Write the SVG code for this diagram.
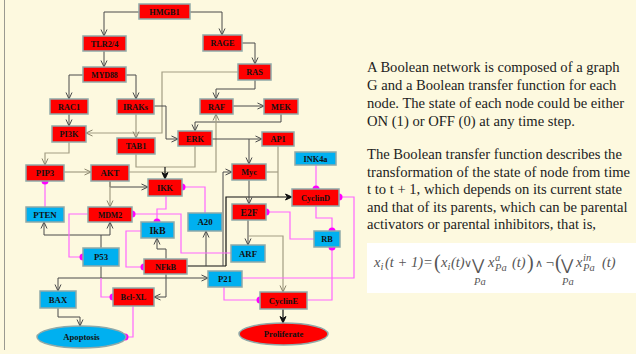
<svg xmlns="http://www.w3.org/2000/svg" width="636" height="354" viewBox="0 0 636 354">
<defs>
<style>
.n rect,.n ellipse{stroke:#8FA9A9;stroke-width:1.5}
.r{fill:#FF0000}
.b{fill:#00B0F0}
.n text{font-family:"Liberation Serif","Times New Roman",serif;font-weight:bold;font-size:8.3px;text-anchor:middle;fill:#111}
.c{fill:none;stroke:#4a4a4a;stroke-width:1}
.l{fill:none;stroke:#a39d84;stroke-width:1.2}
.k{fill:none;stroke:#111;stroke-width:1.2}
.p{fill:none;stroke:#FF66FF;stroke-width:1.2}
.d{fill:#FF00FF}
.t{font-family:"Liberation Serif","Times New Roman",serif;font-size:14.6px;fill:#222}
.f{font-family:"Liberation Serif","Times New Roman",serif;font-style:italic;font-size:14.5px;fill:#555}
.fs{font-family:"Liberation Serif","Times New Roman",serif;font-style:italic;font-size:10.5px;fill:#555}
.fr{font-family:"Liberation Serif","Times New Roman",serif;font-size:20px;fill:#555}
.fo{font-family:"DejaVu Sans",sans-serif;font-size:11px;fill:#555}
.fb{font-family:"DejaVu Sans",sans-serif;font-size:15px;fill:#555}
</style>
<marker id="ad" viewBox="0 0 8 8" refX="7.5" refY="4" markerWidth="8" markerHeight="8" markerUnits="userSpaceOnUse" orient="auto"><path d="M1,1 L7.5,4 L1,7" fill="none" stroke="#4a4a4a" stroke-width="1"/></marker>
<marker id="al" viewBox="0 0 8 8" refX="7.5" refY="4" markerWidth="8" markerHeight="8" markerUnits="userSpaceOnUse" orient="auto"><path d="M1,1 L7.5,4 L1,7" fill="none" stroke="#8a846c" stroke-width="1"/></marker>
<marker id="ak" viewBox="0 0 8 8" refX="7.5" refY="4" markerWidth="8" markerHeight="8" markerUnits="userSpaceOnUse" orient="auto"><path d="M1,1 L7.5,4 L1,7 L3,4 Z" fill="#111" stroke="#111" stroke-width="1"/></marker>
</defs>
<rect x="0" y="0" width="636" height="354" fill="#FDF9DF"/>
<line x1="4.5" y1="0" x2="4.5" y2="350" stroke="#9a9a90" stroke-width="1"/>

<g id="connectors">
<path class="c" d="M139,12 H104 V36" marker-end="url(#ad)"/>
<path class="c" d="M190,12 H222 V35" marker-end="url(#ad)"/>
<path class="c" d="M104,51 V67" marker-end="url(#ad)"/>
<path class="c" d="M83,75 H69 V99" marker-end="url(#ad)"/>
<path class="c" d="M126,75 H136 V99" marker-end="url(#ad)"/>
<path class="c" d="M242,43 H255 V64" marker-end="url(#ad)"/>
<path class="c" d="M255,80 V89 H216 V99" marker-end="url(#ad)"/>
<path class="l" d="M238,72 H162 V133 H86" marker-end="url(#al)"/>
<path class="c" d="M69,114 V126" marker-end="url(#ad)"/>
<path class="l" d="M136,114 V138" marker-end="url(#al)"/>
<path class="c" d="M154,106 H166 V139 H178" marker-end="url(#ad)"/>
<path class="c" d="M233,106 H264" marker-end="url(#ad)"/>
<path class="c" d="M281,114 V122 H195 V131" marker-end="url(#ad)"/>
<path class="l" d="M129,172 H216 V114" marker-end="url(#al)"/>
<path class="c" d="M212,139 H262" marker-end="url(#ad)"/>
<path class="c" d="M249,139 V164" marker-end="url(#ad)"/>
<path class="l" d="M136,154 V167 H195 V146"/>
<path class="k" d="M165,167 V179" marker-end="url(#ak)"/>
<path class="l" d="M278,146 V197"/>
<path class="l" d="M266,172 H278"/>
<path class="k" d="M226,266 V197 H292" marker-end="url(#ak)"/>
<path class="c" d="M249,180 V204" marker-end="url(#ad)"/>
<path class="c" d="M248,220 V245" marker-end="url(#ad)"/>
<path class="l" d="M248,236 H283 V292" marker-end="url(#al)"/>
<path class="k" d="M283,309 V323" marker-end="url(#ak)"/>
<path class="l" d="M69,142 V153 H45 V165" marker-end="url(#al)"/>
<path class="l" d="M64,172 H91" marker-end="url(#al)"/>
<path class="c" d="M110,181 V187 H148" marker-end="url(#ad)"/>
<path class="l" d="M110,181 V207" marker-end="url(#al)"/>
<path class="c" d="M166,259 V249 H157 V238" marker-end="url(#ad)"/>
<path class="k" d="M187,266 H226"/>
<path class="c" d="M206,266 V231" marker-end="url(#ad)"/>
<path class="c" d="M223,266 V172 H232" marker-end="url(#ad)"/>
<path class="c" d="M101,248 V235 H44 V222" marker-end="url(#ad)"/>
<path class="c" d="M101,235 H110 V222" marker-end="url(#ad)"/>
<path class="c" d="M101,266 V278"/>
<path class="c" d="M101,278 H58 V291" marker-end="url(#ad)"/>
<path class="c" d="M101,278 H208" marker-end="url(#ad)"/>
<path class="c" d="M166,274 V297 H154" marker-end="url(#ad)"/>
<path class="c" d="M58,308 V317 H80 V326" marker-end="url(#ad)"/>

<path class="p" d="M45,207 V181"/>
<path class="p" d="M88,214 H69 V257 H83"/>
<path class="p" d="M231,253 H181 V214 H132"/>
<path class="p" d="M166,196 V209 H157 V222"/>
<path class="p" d="M205,213 V187 H182"/>
<path class="p" d="M141,231 H126 V267 H144"/>
<path class="p" d="M101,278 V297 H113"/>
<path class="p" d="M133,306 V337 H126"/>
<path class="p" d="M316,164 V189"/>
<path class="p" d="M316,206 V218 H332 V231"/>
<path class="p" d="M314,239 H290 V212 H266"/>
<path class="p" d="M307,300 H332 V247"/>
<path class="p" d="M224,287 V300 H260"/>
<path class="p" d="M242,278 H354 V197 H339"/>
<circle class="d" cx="45" cy="181" r="3.5"/>
<circle class="d" cx="83" cy="257" r="3.5"/>
<circle class="d" cx="132" cy="214" r="3.5"/>
<circle class="d" cx="157" cy="222" r="3.5"/>
<circle class="d" cx="182" cy="187" r="3.5"/>
<circle class="d" cx="144" cy="267" r="3.5"/>
<circle class="d" cx="113" cy="297" r="3.5"/>
<circle class="d" cx="125" cy="337" r="3.5"/>
<circle class="d" cx="316" cy="189" r="3.5"/>
<circle class="d" cx="332" cy="231" r="3.5"/>
<circle class="d" cx="266" cy="212" r="3.5"/>
<circle class="d" cx="332" cy="247" r="3.5"/>
<circle class="d" cx="260" cy="300" r="3.5"/>
<circle class="d" cx="339" cy="197" r="3.5"/>
</g>

<g id="HMGB1" class="n"><rect class="r" x="139" y="4" width="51" height="15"/><text x="164.5" y="14.5">HMGB1</text></g>
<g id="TLR24" class="n"><rect class="r" x="83" y="36" width="43" height="15"/><text x="104.5" y="46.5">TLR2/4</text></g>
<g id="MYD88" class="n"><rect class="r" x="83" y="67" width="43" height="15"/><text x="104.5" y="77.5" style="font-size:7.8px">MYD88</text></g>
<g id="RAC1" class="n"><rect class="r" x="50" y="99" width="38" height="15"/><text x="69" y="109.5">RAC1</text></g>
<g id="IRAKs" class="n"><rect class="r" x="117" y="99" width="37" height="15"/><text x="135.5" y="109.5">IRAKs</text></g>
<g id="RAGE" class="n"><rect class="r" x="203" y="35" width="39" height="16"/><text x="222.5" y="46">RAGE</text></g>
<g id="RAS" class="n"><rect class="r" x="238" y="64" width="33" height="16"/><text x="254.5" y="75">RAS</text></g>
<g id="RAF" class="n"><rect class="r" x="200" y="99" width="33" height="15"/><text x="216.5" y="109.5">RAF</text></g>
<g id="MEK" class="n"><rect class="r" x="264" y="99" width="34" height="15"/><text x="281" y="109.5">MEK</text></g>
<g id="PI3K" class="n"><rect class="r" x="52" y="126" width="34" height="16"/><text x="69" y="137">PI3K</text></g>
<g id="TAB1" class="n"><rect class="r" x="117" y="138" width="38" height="16"/><text x="136" y="149">TAB1</text></g>
<g id="ERK" class="n"><rect class="r" x="178" y="131" width="34" height="15"/><text x="195" y="141.5">ERK</text></g>
<g id="AP1" class="n"><rect class="r" x="262" y="132" width="32" height="14"/><text x="278" y="142">AP1</text></g>
<g id="INK4a" class="n"><rect class="b" x="295" y="152" width="41" height="13"/><text x="315.5" y="161.5">INK4a</text></g>
<g id="Myc" class="n"><rect class="r" x="232" y="164" width="34" height="16"/><text x="249" y="175">Myc</text></g>
<g id="PIP3" class="n"><rect class="r" x="26" y="165" width="38" height="16"/><text x="45" y="176" style="font-size:8.7px">PIP3</text></g>
<g id="AKT" class="n"><rect class="r" x="91" y="165" width="38" height="16"/><text x="110" y="176" style="font-size:8.7px">AKT</text></g>
<g id="IKK" class="n"><rect class="r" x="148" y="179" width="34" height="17"/><text x="165" y="190.5">IKK</text></g>
<g id="CyclinD" class="n"><rect class="r" x="292" y="189" width="47" height="17"/><text x="315.5" y="200.5">CyclinD</text></g>
<g id="E2F" class="n"><rect class="r" x="232" y="204" width="34" height="16"/><text x="249" y="215.5" style="font-size:9.5px">E2F</text></g>
<g id="PTEN" class="n"><rect class="b" x="26" y="207" width="38" height="15"/><text x="45" y="217.5" style="font-size:8.8px">PTEN</text></g>
<g id="MDM2" class="n"><rect class="r" x="88" y="207" width="44" height="15"/><text x="110" y="217.5" style="font-size:7.8px">MDM2</text></g>
<g id="A20" class="n"><rect class="b" x="188" y="213" width="34" height="18"/><text x="205" y="225" style="font-size:8.8px">A20</text></g>
<g id="IkB" class="n"><rect class="b" x="141" y="222" width="33" height="16"/><text x="157.5" y="233.5" style="font-size:10px">IkB</text></g>
<g id="RB" class="n"><rect class="b" x="314" y="231" width="26" height="16"/><text x="327" y="242">RB</text></g>
<g id="ARF" class="n"><rect class="b" x="231" y="245" width="34" height="17"/><text x="248" y="256.5" style="font-size:8.8px">ARF</text></g>
<g id="P53" class="n"><rect class="b" x="83" y="248" width="36" height="18"/><text x="101" y="260" style="font-size:8.8px">P53</text></g>
<g id="NFkB" class="n"><rect class="r" x="144" y="259" width="43" height="15"/><text x="165.5" y="269.5">NFkB</text></g>
<g id="P21" class="n"><rect class="b" x="208" y="271" width="34" height="16"/><text x="225" y="282" style="font-size:8.7px">P21</text></g>
<g id="BAX" class="n"><rect class="b" x="40" y="291" width="36" height="17"/><text x="58" y="302.5" style="font-size:8.7px">BAX</text></g>
<g id="BclXL" class="n"><rect class="r" x="113" y="288" width="41" height="18"/><text x="133.5" y="300">Bcl-XL</text></g>
<g id="CyclinE" class="n"><rect class="r" x="260" y="292" width="47" height="17"/><text x="283.5" y="303.5" style="font-size:8.5px">CyclinE</text></g>
<g id="Apoptosis" class="n"><ellipse class="b" cx="81.5" cy="337" rx="44.5" ry="11"/><text x="81.5" y="340" style="font-size:8.6px">Apoptosis</text></g>
<g id="Proliferate" class="n"><ellipse class="r" cx="283.5" cy="334" rx="44.5" ry="11"/><text x="283.5" y="337" style="font-size:8.6px">Proliferate</text></g>

<g id="description">
<text class="t" x="367" y="71.5">A Boolean network is composed of a graph</text>
<text class="t" x="367" y="89.5">G and a Boolean transfer function for each</text>
<text class="t" x="367" y="107.5">node. The state of each node could be either</text>
<text class="t" x="367" y="125.5">ON (1) or OFF (0) at any time step.</text>
<text class="t" x="367" y="159">The Boolean transfer function describes the</text>
<text class="t" x="367" y="176.5">transformation of the state of node from time</text>
<text class="t" x="367" y="194">t to t + 1, which depends on its current state</text>
<text class="t" x="367" y="211.5">and that of its parents, which can be parental</text>
<text class="t" x="367" y="229">activators or parental inhibitors, that is,</text>
</g>

<g id="formula">
<rect x="367" y="243" width="269" height="50" fill="#FFFFFF"/>
<text class="f" x="374" y="267">x</text><text class="fs" x="380.5" y="270">i</text><text class="f" x="385" y="267">(t + 1)</text>
<text class="f" x="423" y="267">=</text>
<text class="fr" x="434" y="269">(</text>
<text class="f" x="441" y="267">x</text><text class="fs" x="447.5" y="270">i</text><text class="f" x="451" y="267">(t)</text>
<text class="fo" x="464" y="267">∨</text>
<text class="fb" x="472" y="270">⋁</text><text class="fs" x="474" y="285">Pa</text>
<text class="f" x="488" y="267">x</text><text class="fs" x="495" y="261">a</text><text class="fs" x="495" y="271">Pa</text><text class="f" x="512" y="267">(t)</text>
<text class="fr" x="527" y="269">)</text>
<text class="fo" x="535" y="267">∧</text>
<text class="f" x="545" y="267">¬</text>
<text class="fr" x="555" y="269">(</text>
<text class="fb" x="561" y="270">⋁</text><text class="fs" x="562" y="285">Pa</text>
<text class="f" x="576" y="267">x</text><text class="fs" x="583" y="261">in</text><text class="fs" x="583" y="271">Pa</text><text class="f" x="602" y="267">(t)</text>
</g>
</svg>
